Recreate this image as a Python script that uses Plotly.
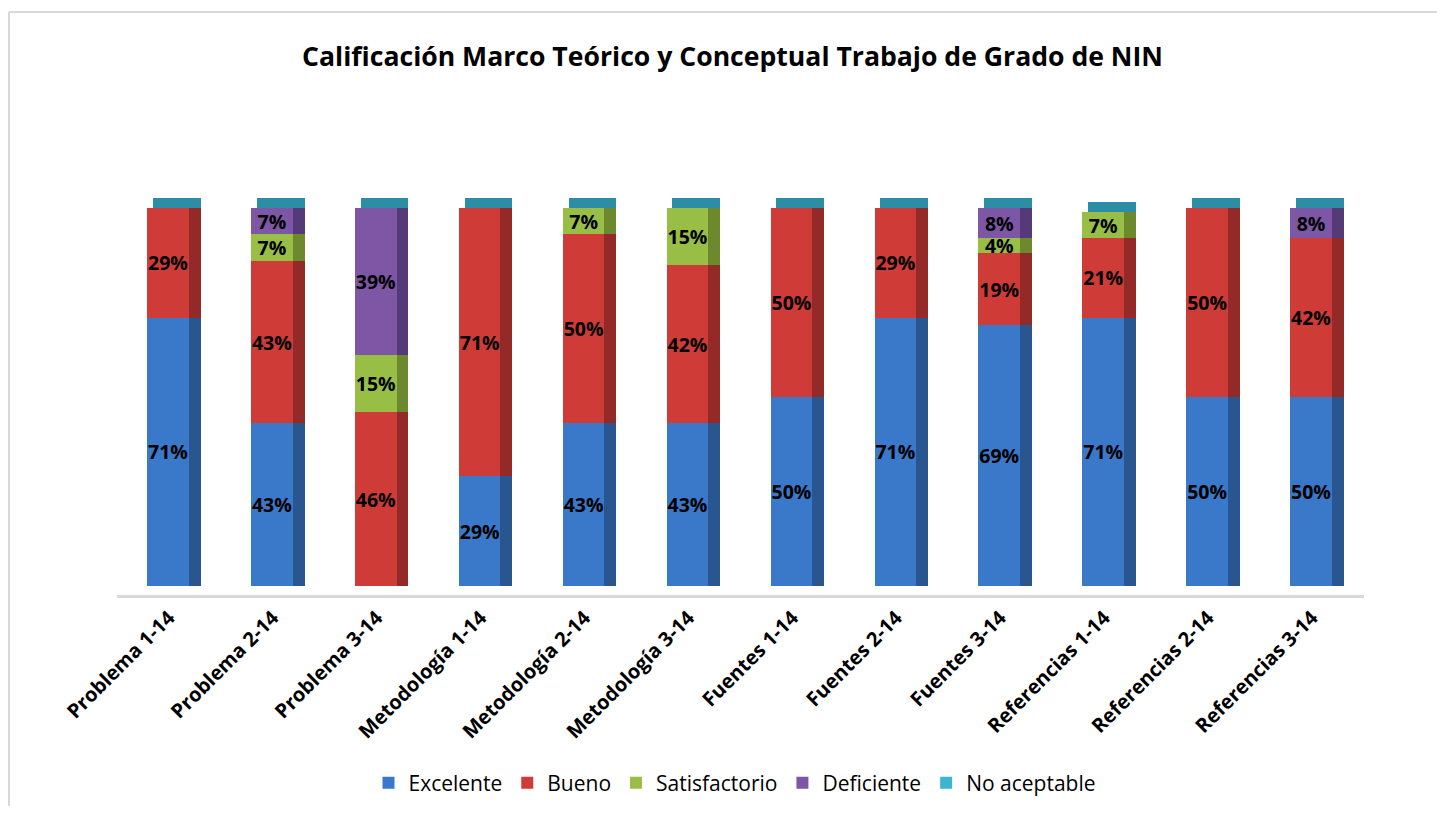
import plotly.graph_objects as go

categories = ["Problema 1-14", "Problema 2-14", "Problema 3-14", "Metodología 1-14",
              "Metodología 2-14", "Metodología 3-14", "Fuentes 1-14", "Fuentes 2-14",
              "Fuentes 3-14", "Referencias 1-14", "Referencias 2-14", "Referencias 3-14"]
excelente = [71, 43, 0, 29, 43, 43, 50, 71, 69, 71, 50, 50]
bueno = [29, 43, 46, 71, 50, 42, 50, 29, 19, 21, 50, 42]
satisfactorio = [0, 7, 15, 0, 7, 15, 0, 0, 4, 7, 0, 0]
deficiente = [0, 7, 39, 0, 0, 0, 0, 0, 8, 0, 0, 8]
no_aceptable = [0, 0, 0, 0, 0, 0, 0, 0, 0, 0, 0, 0]

series = [
    ("Excelente", excelente, "#3A78C9", "#2A5690"),
    ("Bueno", bueno, "#CF3B37", "#942A27"),
    ("Satisfactorio", satisfactorio, "#98BE45", "#6C8A2D"),
    ("Deficiente", deficiente, "#7D56A5", "#553A77"),
    ("No aceptable", no_aceptable, "#3DB4D0", "#2B8EA6"),
]

FONT = "'Open Sans', Lato, sans-serif"
W, H = 1429, 798  # page body has an 8px margin


def px(x):
    return (x - 8) / W


def py(y):
    return 1 - (y - 8) / H


fig = go.Figure()

# front faces
for name, vals, front, side in series:
    fig.add_trace(go.Bar(
        x=categories, y=vals, name=name,
        marker=dict(color=front, line=dict(width=0)),
        width=0.40, offset=-0.21,
        text=[f"{v}%" if v else "" for v in vals],
        textposition="inside", insidetextanchor="middle", textangle=0,
        constraintext="none",
        textfont=dict(family=FONT, size=19.5, color="black", weight="bold"),
        xaxis="x", yaxis="y", hoverinfo="skip", showlegend=True,
    ))

# side faces (3D look)
for name, vals, front, side in series:
    fig.add_trace(go.Bar(
        x=categories, y=vals, name=name,
        marker=dict(color=side, line=dict(width=0)),
        width=0.115, offset=0.19,
        xaxis="x2", yaxis="y", hoverinfo="skip", showlegend=False,
    ))

# top cap (No aceptable top face)
fig.add_trace(go.Bar(
    x=categories, y=[2.6] * len(categories), name="No aceptable",
    marker=dict(color="#2B8EA6", line=dict(width=0)),
    width=0.46, offset=-0.155,
    xaxis="x2", yaxis="y", hoverinfo="skip", showlegend=False,
))

fig.update_layout(
    width=W, height=H,
    margin=dict(l=0, r=0, t=0, b=0, autoexpand=False),
    paper_bgcolor="white", plot_bgcolor="white",
    barmode="stack",
    title=dict(text="<b>Calificación Marco Teórico y Conceptual Trabajo de Grado de NIN</b>",
               x=px(732.5), xanchor="center", y=py(57), yanchor="middle",
               font=dict(family=FONT, size=26.6, color="black")),
    font=dict(family=FONT, color="black"),
    xaxis=dict(domain=[px(117), px(1364)], range=[-0.5, 11.5], type="category",
               tickangle=-45, showgrid=False, zeroline=False, automargin=False,
               showline=True, linecolor="#D9D9D9", linewidth=3,
               ticks="", tickfont=dict(family=FONT, size=20, color="black", weight="bold")),
    xaxis2=dict(domain=[px(117), px(1364)], range=[-0.5, 11.5], type="category",
                overlaying="x", visible=False, matches="x", automargin=False),
    yaxis=dict(domain=[py(595), py(170.2)], range=[-2.38, 110], automargin=False,
               visible=False, showgrid=False, zeroline=False),
    legend=dict(orientation="h", x=px(735), xanchor="center", y=py(783), yanchor="middle",
                font=dict(family=FONT, size=21, color="black"),
                traceorder="normal", itemwidth=30),
    shapes=[
        dict(type="line", xref="paper", yref="paper", x0=px(9), x1=1.0,
             y0=py(12), y1=py(12), line=dict(color="#D9D9D9", width=2)),
        dict(type="line", xref="paper", yref="paper", x0=px(9), x1=px(9),
             y0=0, y1=py(12), line=dict(color="#D9D9D9", width=2)),
    ],
)

fig.write_html("out.html")
